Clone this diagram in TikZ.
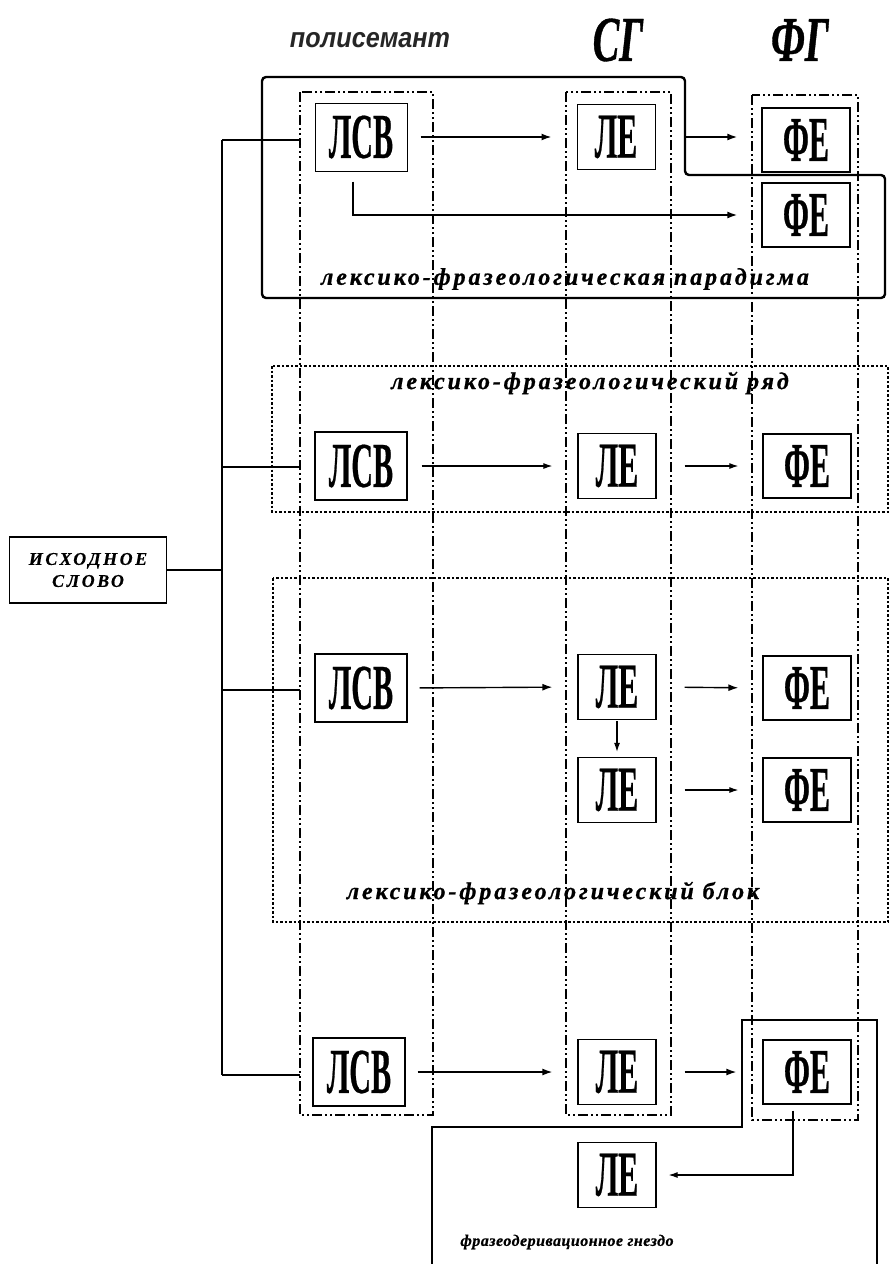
\documentclass[tikz,border=0pt]{standalone}
\usepackage{fontspec}
\setmainfont{Liberation Serif}
\newfontfamily\cond[FakeStretch=0.47, FakeBold=0.4, UprightFont={Liberation Serif Bold}]{Liberation Serif}
\newfontfamily\hdfont[FakeStretch=0.62, FakeBold=0.6, UprightFont={Liberation Serif Bold Italic}]{Liberation Serif}
\newfontfamily\lblfont[LetterSpace=12, FakeBold=0.8, UprightFont={Liberation Serif Bold Italic}]{Liberation Serif}
\newfontfamily\smlfont[LetterSpace=3, FakeBold=0.6, UprightFont={Liberation Serif Bold Italic}]{Liberation Serif}
\newfontfamily\srcfont[LetterSpace=14, FakeBold=0.4, UprightFont={Liberation Serif Bold Italic}]{Liberation Serif}
\newfontfamily\polyfont[FakeStretch=0.9, UprightFont={Liberation Sans Bold Italic}]{Liberation Sans}
\usetikzlibrary{arrows.meta}
\tikzset{
  unit/.style={draw, line width=1.3pt, inner sep=0pt, font=\cond\fontsize{64}{64}\selectfont},
  lsv/.style={unit, minimum width=92pt, minimum height=68pt},
  lex/.style={unit, minimum width=78pt, minimum height=65pt},
  fe/.style={unit, minimum width=88pt, minimum height=64pt},
  colbox/.style={line width=1.3pt, dash pattern=on 10pt off 3pt on 2pt off 3pt on 2pt off 3pt},
  arr/.style={line width=1.4pt, -{Latex[length=10pt,width=7pt]}},
  thinarr/.style={line width=1.1pt, -{Latex[length=9pt,width=6pt]}},
  trunk/.style={line width=1.1pt},
  dotbox/.style={line width=2.6pt, dash pattern=on 2.5pt off 2pt},
  lbl/.style={font=\lblfont\fontsize{24}{24}\selectfont},
  header/.style={font=\hdfont\fontsize{64}{64}\selectfont}
}
\begin{document}
\begin{tikzpicture}[x=1pt,y=-1pt]
\useasboundingbox (0,0) rectangle (891,1264);
% columns
\draw[colbox] (300,92) rectangle (433,1115);
\draw[colbox] (566,92) rectangle (671,1115);
\draw[colbox] (752,95) rectangle (858,1120);
% headers
\node[font=\polyfont\fontsize{28}{28}\selectfont, text=black!85] (hpol) at (370,40) {полисемант};
\node[header] (hsg) at (618,40) {СГ};
\node[header] (hfg) at (800,40) {ФГ};
% top enclosure
\draw[line width=2.4pt, rounded corners=4pt] (262,77) -- (685,77) -- (685,175) -- (885,175) -- (885,298) -- (262,298) -- cycle;
\node[lbl] (lpar) at (565,279) {лексико-фразеологическая парадигма};
% row 2 / row 3 dotted boxes
\draw[dotbox] (272,366) rectangle (888,512);
\node[lbl] (lryad) at (590,383) {лексико-фразеологический ряд};
\draw[dotbox] (273,578) rectangle (888,922);
\node[lbl] (lblok) at (553,893) {лексико-фразеологический блок};
% bottom enclosure
\draw[line width=1.2pt] (432,1264) -- (432,1127) -- (742,1127) -- (742,1020) -- (877,1020) -- (877,1264);
\node[font=\smlfont\fontsize{16}{16}\selectfont] (lgn) at (567,1242) {фразеодеривационное гнездо};
% source
\node[draw, line width=1.4pt, minimum width=157pt, minimum height=66pt, inner sep=0pt, align=center,
  font=\srcfont\fontsize{18}{22}\selectfont] (src) at (88,570) {ИСХОДНОЕ\\СЛОВО};
% row 1
\node[lsv, line width=1pt] (L1) at (361,137) {ЛСВ};
\node[lex, line width=1pt] (E1) at (616,137) {ЛЕ};
\node[fe] (F1) at (806,140) {ФЕ};
\node[fe] (F1b) at (806,215) {ФЕ};
% row 2
\node[lsv] (L2) at (361,466) {ЛСВ};
\node[lex] (E2) at (617,466) {ЛЕ};
\node[fe] (F2) at (807,466) {ФЕ};
% row 3
\node[lsv] (L3) at (361,688) {ЛСВ};
\node[lex] (E3) at (617,687) {ЛЕ};
\node[fe] (F3) at (807,688) {ФЕ};
\node[lex] (E3b) at (617,790) {ЛЕ};
\node[fe] (F3b) at (807,790) {ФЕ};
% row 4
\node[lsv] (L4) at (359,1072) {ЛСВ};
\node[lex] (E4) at (617,1072) {ЛЕ};
\node[fe] (F4) at (807,1072) {ФЕ};
\node[lex] (E5) at (617,1175) {ЛЕ};
% trunk
\coordinate (t1) at (222,140);
\coordinate (t2) at (222,467);
\coordinate (t3) at (222,690);
\coordinate (t4) at (222,1075);
\coordinate (b1) at (300,140);
\coordinate (b2) at (300,467);
\coordinate (b3) at (300,690);
\coordinate (b4) at (300,1075);
\draw[trunk] (t1) -- (t4);
\draw[line width=1.8pt] (t1) -- (b1);
\draw[trunk] (t2) -- (b2);
\draw[line width=1.6pt] (t3) -- (b3);
\draw[trunk] (t4) -- (b4);
\draw[trunk] (src.east) -- (src.east -| t1);
% arrows row 1
\draw[arr, line width=1.6pt, shorten <=13pt, shorten >=25pt] (L1.east) -- (L1.east -| E1.west);
\draw[arr, line width=1.6pt, shorten <=30pt, shorten >=24pt] (E1.east) -- (E1.east -| F1.west);
\draw[arr, line width=1.6pt, shorten <=10pt, shorten >=24pt] ([xshift=-8pt]L1.south) |- (F1b.west);
% arrows row 2
\draw[thinarr, shorten <=14pt, shorten >=25pt] (L2.east) -- (E2.west);
\draw[thinarr, shorten <=28pt, shorten >=24pt] (E2.east) -- (F2.west);
% arrows row 3
\draw[arr, shorten <=12pt, shorten >=25pt] (L3.east) -- (E3.west);
\draw[arr, shorten <=28pt, shorten >=24pt] (E3.east) -- (F3.west);
\draw[thinarr, shorten <=1pt, shorten >=5pt] (E3.south) -- (E3b.north);
\draw[thinarr, shorten <=28pt, shorten >=24pt] (E3b.east) -- (F3b.west);
% arrows row 4
\draw[arr, shorten <=12pt, shorten >=25pt] (L4.east) -- (E4.west);
\draw[arr, shorten <=28pt, shorten >=26pt] (E4.east) -- (F4.west);
\draw[thinarr, shorten <=6pt, shorten >=12pt] ([xshift=-14pt]F4.south) |- (E5.east);
\end{tikzpicture}
\end{document}
